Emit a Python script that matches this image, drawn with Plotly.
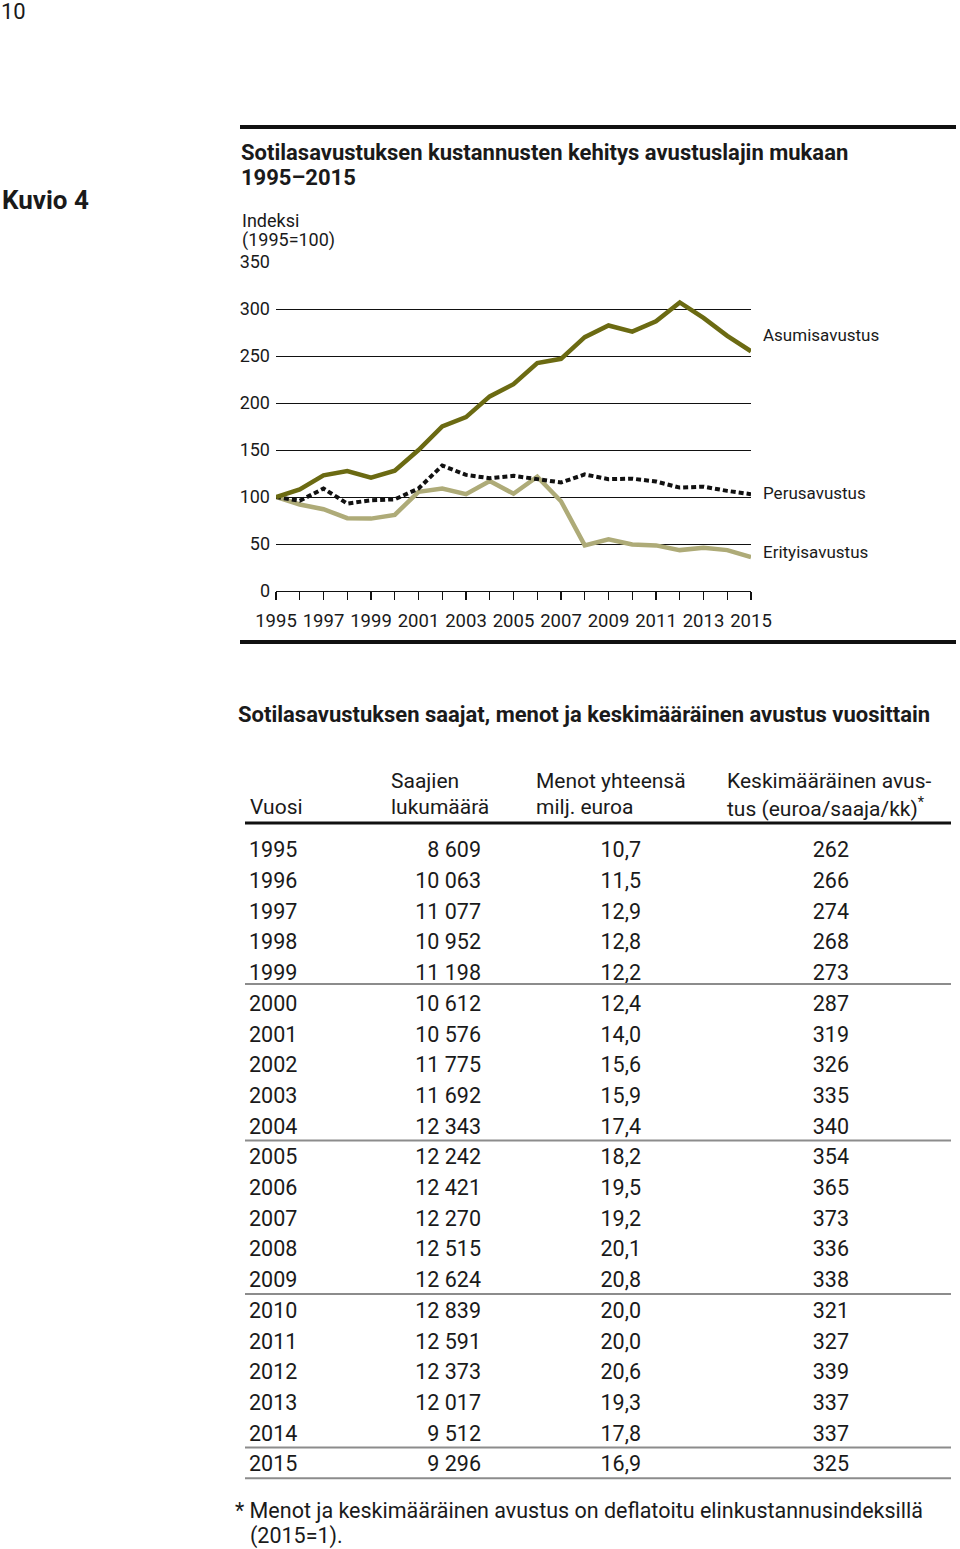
import plotly.graph_objects as go

# ---------------- data ----------------
years = list(range(1995, 2016))
asumisavustus = [100, 108, 123, 127.5, 120.5, 128, 150, 175, 185, 207, 220, 242.5, 247,
                 270, 282.5, 276, 287, 307, 290.5, 271.5, 255]
perusavustus = [100, 96, 109, 93, 96.5, 97.5, 109, 133.5, 123.5, 120, 122.5, 119, 115.5,
                124, 119, 119.5, 116.5, 110, 111, 106.5, 103]
erityisavustus = [100, 92, 87, 77.5, 77, 81, 105.5, 109, 103, 117, 103.5, 121.5, 95.5,
                  48.5, 55, 49.5, 48.5, 43.5, 46, 43.5, 36]

label_years = [y for y in years if y % 2 == 1]
y_ticks = [0, 50, 100, 150, 200, 250, 300, 350]

saajat = [8609, 10063, 11077, 10952, 11198, 10612, 10576, 11775, 11692, 12343, 12242,
          12421, 12270, 12515, 12624, 12839, 12591, 12373, 12017, 9512, 9296]
menot = [10.7, 11.5, 12.9, 12.8, 12.2, 12.4, 14.0, 15.6, 15.9, 17.4, 18.2, 19.5, 19.2,
         20.1, 20.8, 20.0, 20.0, 20.6, 19.3, 17.8, 16.9]
keskim = [262, 266, 274, 268, 273, 287, 319, 326, 335, 340, 354, 365, 373, 336, 338,
          321, 327, 339, 337, 337, 325]

W, H = 960, 1549
FONT = "Roboto"


def px(v):
    return v / W


def py(v):
    return 1 - v / H


def fmt_int(v):
    return f"{v:,}".replace(",", "\u00a0")


def fmt_dec(v):
    return f"{v:.1f}".replace(".", ",")


fig = go.Figure()

# ---------------- line chart ----------------
fig.add_trace(go.Scatter(x=years, y=erityisavustus, mode="lines", name="Erityisavustus",
                         line=dict(color="#aeab78", width=4.5), xaxis="x", yaxis="y"))
fig.add_trace(go.Scatter(x=years, y=perusavustus, mode="lines", name="Perusavustus",
                         line=dict(color="#111111", width=4, dash="5px,3px"), xaxis="x", yaxis="y"))
fig.add_trace(go.Scatter(x=years, y=asumisavustus, mode="lines", name="Asumisavustus",
                         line=dict(color="#6b6a12", width=4.5), xaxis="x", yaxis="y"))

# ---------------- table (text traces) ----------------
rows = list(range(len(years)))
TF = dict(family=FONT, size=21.5, color="#1a1a1a")
fig.add_trace(go.Scatter(x=[249] * len(rows), y=rows, mode="text", text=[str(y) for y in years],
                         textposition="middle right", textfont=TF,
                         xaxis="x2", yaxis="y2", hoverinfo="skip"))
fig.add_trace(go.Scatter(x=[481] * len(rows), y=rows, mode="text", text=[fmt_int(v) for v in saajat],
                         textposition="middle left", textfont=TF,
                         xaxis="x2", yaxis="y2", hoverinfo="skip"))
fig.add_trace(go.Scatter(x=[641] * len(rows), y=rows, mode="text", text=[fmt_dec(v) for v in menot],
                         textposition="middle left", textfont=TF,
                         xaxis="x2", yaxis="y2", hoverinfo="skip"))
fig.add_trace(go.Scatter(x=[849] * len(rows), y=rows, mode="text", text=[str(v) for v in keskim],
                         textposition="middle left", textfont=TF,
                         xaxis="x2", yaxis="y2", hoverinfo="skip"))

row_h = 30.7
row0 = 852
shapes = []
for yy in (127, 642):
    shapes.append(dict(type="line", xref="paper", yref="paper", x0=px(240), x1=px(956),
                       y0=py(yy), y1=py(yy), line=dict(color="#111111", width=4)))
shapes.append(dict(type="line", xref="paper", yref="paper", x0=px(245), x1=px(951),
                   y0=py(823), y1=py(823), line=dict(color="#111111", width=3)))
for i in rows:
    if (i + 1) % 5 == 0 or i == len(rows) - 1:
        off = 0.3 if i == 4 else 0.4
        shapes.append(dict(type="line", xref="x2", yref="y2", x0=245, x1=951,
                           y0=i + off, y1=i + off, line=dict(color="#8c8c8c", width=2)))

annotations = []


def ann(text, x, y, size, bold=False, xanchor="left", yanchor="middle", color="#1a1a1a"):
    t = f"<b>{text}</b>" if bold else text
    annotations.append(dict(text=t, x=px(x), y=py(y), xref="paper", yref="paper",
                            xanchor=xanchor, yanchor=yanchor, showarrow=False,
                            font=dict(family=FONT, size=size, color=color)))


ann("10", -1, -3, 22, yanchor="top")
ann("Kuvio 4", 0, 200, 26, bold=True)
ann("Sotilasavustuksen kustannusten kehitys avustuslajin mukaan", 239, 153, 22, bold=True)
ann("1995–2015", 239, 178, 22, bold=True)
ann("Indeksi", 240, 221, 18)
ann("(1995=100)", 240, 240, 18)
ann("Asumisavustus", 761, 335, 17)
ann("Perusavustus", 761, 493, 17)
ann("Erityisavustus", 761, 552, 17)
ann("Sotilasavustuksen saajat, menot ja keskimääräinen avustus vuosittain", 236, 714, 22, bold=True)
ann("Vuosi", 248, 807, 21)
ann("Saajien", 389, 781, 21)
ann("lukumäärä", 389, 807, 21)
ann("Menot yhteensä", 534, 781, 21)
ann("milj. euroa", 534, 807, 21)
ann("Keskimääräinen avus-", 725, 781, 21)
ann("tus (euroa/saaja/kk)<sup>*</sup>", 725, 807, 21)
ann("* Menot ja keskimääräinen avustus on deflatoitu elinkustannusindeksillä", 233, 1510, 21.5)
ann("(2015=1).", 248, 1536, 21.5)

fig.update_layout(
    width=W, height=H,
    margin=dict(l=0, r=0, t=0, b=0, pad=0, autoexpand=False),
    paper_bgcolor="white", plot_bgcolor="white",
    showlegend=False,
    font=dict(family=FONT, color="#1a1a1a"),
    xaxis=dict(domain=[px(276), px(751)], range=[1995, 2015], tickvals=label_years,
               ticks="outside", ticklen=8, tickwidth=1.2, tickcolor="#111111",
               minor=dict(tickvals=years, ticks="outside", ticklen=8, tickwidth=1.2,
                          tickcolor="#111111", showgrid=False),
               showline=True, linecolor="#111111", linewidth=1.2, showgrid=False, zeroline=False,
               automargin=False, ticklabelstandoff=5,
               tickfont=dict(family=FONT, size=18.5, color="#1a1a1a"), anchor="y", fixedrange=True),
    yaxis=dict(domain=[py(591), py(262)], range=[0, 350], tickvals=y_ticks,
               showgrid=True, gridcolor="#111111", gridwidth=1, zeroline=False, showline=False,
               ticks="", ticklabelstandoff=5, automargin=False,
               tickfont=dict(family=FONT, size=18, color="#1a1a1a"), anchor="x", fixedrange=True),
    xaxis2=dict(domain=[0, 1], range=[0, W], visible=False, anchor="y2", fixedrange=True, automargin=False),
    yaxis2=dict(domain=[py(row0 + 20.5 * row_h), py(row0 - 0.5 * row_h)], range=[20.5, -0.5],
                visible=False, anchor="x2", fixedrange=True, automargin=False),
    shapes=shapes,
    annotations=annotations,
)

fig.write_html("out.html", config={"displayModeBar": False, "staticPlot": True},
               post_script="document.body.style.margin='0px';document.body.style.overflow='hidden';")
